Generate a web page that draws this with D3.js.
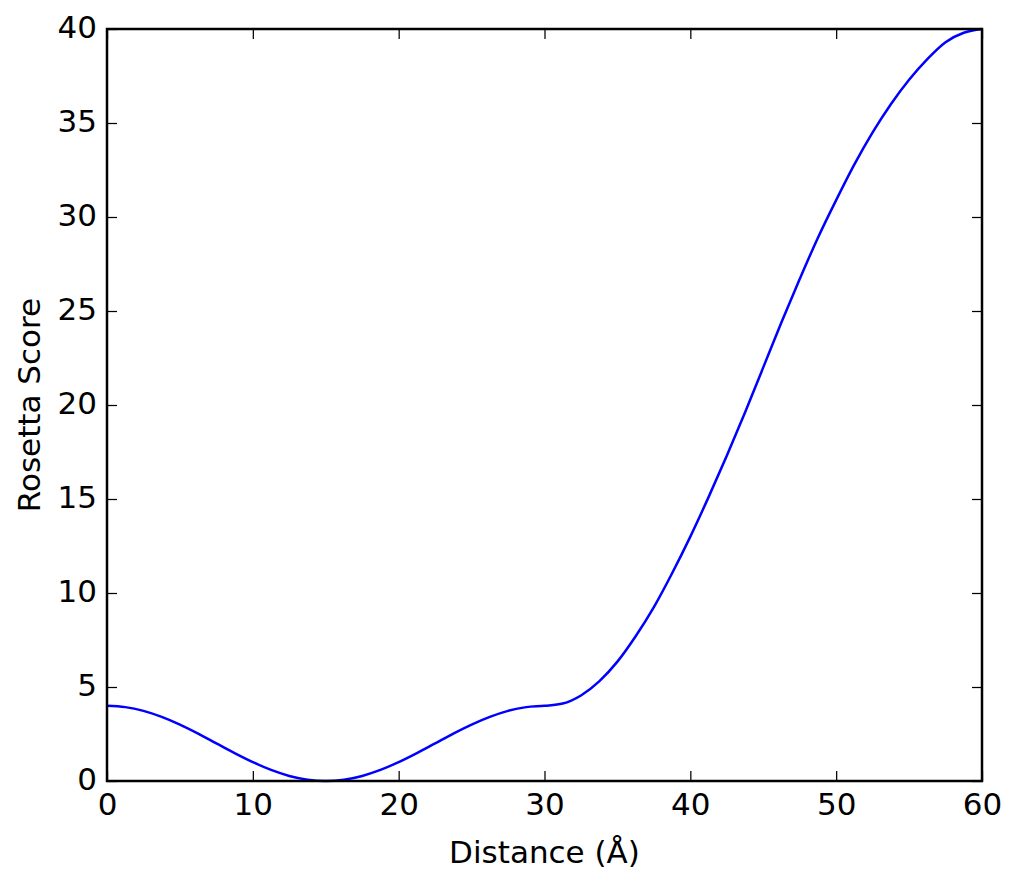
<!DOCTYPE html>
<html>
<head>
<meta charset="utf-8">
<script src="https://cdn.jsdelivr.net/npm/d3@7"></script>
<style>
body{margin:0;background:#fff;}
svg text{font-family:"DejaVu Sans",sans-serif;fill:#000;}
</style>
</head>
<body>
<svg id="chart" width="1010" height="871"></svg>
<script>
// values, every 1.25 Å
var distance = [0,1.25,2.5,3.75,5,6.25,7.5,8.75,10,11.25,12.5,13.75,15,16.25,17.5,18.75,20,21.25,22.5,23.75,25,26.25,27.5,28.75,30,
	31.25,32.5,33.75,35,36.25,37.5,38.75,40,41.25,42.5,43.75,45,46.25,47.5,48.75,50,51.25,52.5,53.75,55,56.25,57.5,58.75,60];
var score = [4.0,3.93,3.73,3.41,3.0,2.52,2.0,1.48,1.0,0.59,0.27,0.07,0,0.07,0.27,0.59,1.0,1.48,2.0,2.52,3.0,3.41,3.73,3.93,4.0,
	4.12,4.55,5.3,6.35,7.7,9.25,11.05,13.0,15.1,17.3,19.6,22.0,24.4,26.7,28.9,30.9,32.8,34.5,36.0,37.3,38.4,39.3,39.8,40.0];
var xTicks = [0,10,20,30,40,50,60];
var yTicks = [0,5,10,15,20,25,30,35,40];

var plotLeft=107,plotRight=982,plotTop=29,plotBottom=781;
var fontSize="31px";

var svg = d3.select("#chart");

var x = d3.scaleLinear().domain([0,60]).range([plotLeft,plotRight]);
var y = d3.scaleLinear().domain([0,40]).range([plotBottom,plotTop]);

var points = distance.map(function(d,i){ return [d,score[i]]; });

var line = d3.line()
	.x(function(d){ return x(d[0]); })
	.y(function(d){ return y(d[1]); })
	.curve(d3.curveMonotoneX);

svg.append("path")
	.datum(points)
	.attr("d",line)
	.attr("fill","none")
	.attr("stroke","#0000ff")
	.attr("stroke-width",2.5);

function styleAxis(g){
	g.select(".domain").remove();
	g.selectAll(".tick line").attr("stroke","#000").attr("stroke-width",1.25);
	g.selectAll(".tick text").attr("font-size",fontSize).attr("font-family","DejaVu Sans");
}

svg.append("g")
	.attr("transform","translate(0,"+plotBottom+")")
	.call(d3.axisBottom(x).tickValues(xTicks).tickSize(-10).tickPadding(12))
	.call(styleAxis);

svg.append("g")
	.attr("transform","translate(0,"+plotTop+")")
	.call(d3.axisTop(x).tickValues(xTicks).tickSize(-10).tickFormat(""))
	.call(styleAxis);

svg.append("g")
	.attr("transform","translate("+plotLeft+",0)")
	.call(d3.axisLeft(y).tickValues(yTicks).tickSize(-10).tickPadding(10))
	.call(styleAxis)
	.selectAll(".tick text").attr("dy","0.28em");

svg.append("g")
	.attr("transform","translate("+plotRight+",0)")
	.call(d3.axisRight(y).tickValues(yTicks).tickSize(-10).tickFormat(""))
	.call(styleAxis);

// frame
svg.append("rect")
	.attr("x",plotLeft).attr("y",plotTop)
	.attr("width",plotRight-plotLeft).attr("height",plotBottom-plotTop)
	.attr("fill","none")
	.attr("stroke","#000")
	.attr("stroke-width",2.5);

svg.append("text")
	.attr("x",(plotLeft+plotRight)/2)
	.attr("y",863)
	.attr("text-anchor","middle")
	.attr("font-size",fontSize)
	.text("Distance (Å)");

svg.append("text")
	.attr("transform","translate(40,"+((plotTop+plotBottom)/2)+") rotate(-90)")
	.attr("text-anchor","middle")
	.attr("font-size",fontSize)
	.text("Rosetta Score");
</script>
</body>
</html>
